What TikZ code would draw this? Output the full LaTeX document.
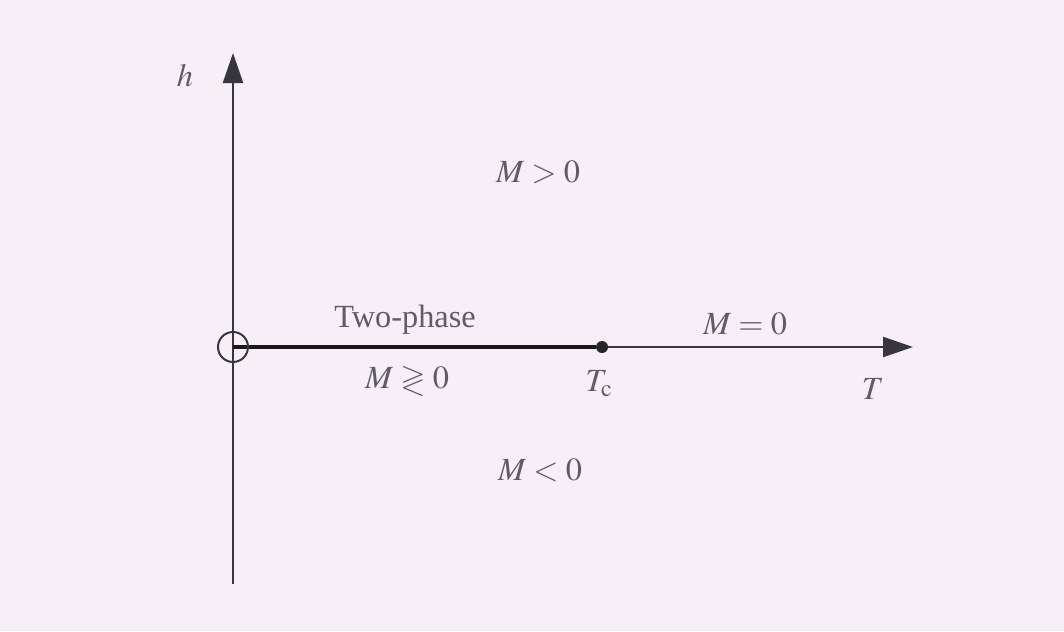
\documentclass[tikz,border=0pt]{standalone}
\usepackage{amssymb}
\usepackage{mathptmx}
\usepackage[no-math]{fontspec}
\setmainfont{Liberation Serif}
\usetikzlibrary{arrows.meta}
\definecolor{bg}{RGB}{247,238,247}
\definecolor{ink}{RGB}{55,53,62}
\definecolor{txt}{RGB}{95,92,102}
\begin{document}
\begin{tikzpicture}[x=0.025cm,y=-0.025cm,
  lbl/.style={text=txt,font=\fontsize{23}{27}\selectfont,inner sep=0pt},
  axis/.style={draw=ink,line width=1.6pt,-{Triangle[length=0.75cm,width=0.5cm]}}]
\fill[bg] (0,0) rectangle (1064,631);
\useasboundingbox (0,0) rectangle (1064,631);
\coordinate (O) at (233,347);
\coordinate (htip) at (233,53);
\coordinate (hbot) at (233,584);
\coordinate (Ttip) at (913,347);
\draw[axis] (hbot) -- (htip);
\draw[axis] (O) -- (Ttip);
\node[circle,fill=black!85,inner sep=0pt,minimum size=0.3cm] (Tc) at (602,347) {};
\draw[black!90,line width=3pt] (O) -- (Tc);
\node[circle,draw=ink,line width=1.4pt,minimum size=0.75cm,inner sep=0pt] (orig) at (O) {};
\node[lbl] (h) at (185,76) {$h$};
\node[lbl] (T) at (873,389) {$T$};
\node[lbl] (Tcl) at (599,384) {$T_{\mathrm{c}}$};
\node[lbl] (two) at (405,320) {Two-phase};
\node[lbl] (Mtwo) at (407,381) {$M\gtrless 0$};
\node[lbl] (Mz) at (745,324) {$M=0$};
\node[lbl] (Mp) at (538,172) {$M>0$};
\node[lbl] (Mn) at (540,470) {$M<0$};
\end{tikzpicture}
\end{document}
